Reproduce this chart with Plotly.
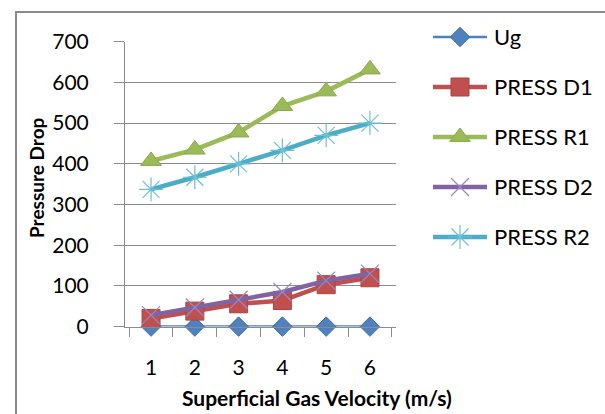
import plotly.graph_objects as go

# Superficial gas velocity categories (m/s)
velocity = ["1", "2", "3", "4", "5", "6"]

# Measured series
ug = [0, 0, 0, 0, 0, 0]
press_d1 = [20, 38, 56, 64, 103, 120]
press_r1 = [407, 435, 477, 542, 578, 632]
press_d2 = [28, 47, 66, 85, 113, 130]
press_r2 = [337, 367, 400, 433, 470, 500]

y_ticks = [0, 100, 200, 300, 400, 500, 600, 700]

W, H = 605, 414
FONT = "Lato"
GRID = "#8c8c8c"

series = [
    dict(name="Ug", y=ug, color="#4F81BD", width=2.5,
         marker=dict(symbol="diamond", size=15, color="#4F81BD",
                     line=dict(color="#3f6ea8", width=1))),
    dict(name="PRESS D1", y=press_d1, color="#C0504D", width=4.5,
         marker=dict(symbol="square", size=18, color="#C0504D",
                     line=dict(color="#a84542", width=1))),
    dict(name="PRESS R1", y=press_r1, color="#9BBB59", width=4.5,
         marker=dict(symbol="triangle-up", size=18, color="#9BBB59",
                     line=dict(color="#8aa84d", width=1))),
    dict(name="PRESS D2", y=press_d2, color="#8064A2", width=4.5,
         marker=dict(symbol="x-thin-open", size=18, color="#9b86bd",
                     line=dict(color="#9b86bd", width=1.2))),
    dict(name="PRESS R2", y=press_r2, color="#4BACC6", width=4.5,
         marker=dict(symbol="asterisk-open", size=20, color="#6cc0d6",
                     line=dict(color="#6cc0d6", width=1.2))),
]

fig = go.Figure()

for s in series:
    fig.add_trace(go.Scatter(
        x=velocity, y=s["y"], name=s["name"], mode="lines+markers",
        line=dict(color=s["color"], width=s["width"]),
        marker=s["marker"], cliponaxis=False, showlegend=False,
        xaxis="x", yaxis="y",
    ))

# Legend drawn in its own hidden pixel-scaled axes
LEG_X0, LEG_X1 = 433, 600
LEG_Y0, LEG_Y1 = 17, 257
row_gap = 50
annotations = []
for i, s in enumerate(series):
    yc = 37 + row_gap * i
    fig.add_trace(go.Scatter(
        x=[0, 54], y=[yc, yc], mode="lines",
        line=dict(color=s["color"], width=s["width"]),
        showlegend=False, hoverinfo="skip", xaxis="x2", yaxis="y2",
        cliponaxis=False,
    ))
    fig.add_trace(go.Scatter(
        x=[27], y=[yc], mode="markers", marker=s["marker"],
        showlegend=False, hoverinfo="skip", xaxis="x2", yaxis="y2",
        cliponaxis=False,
    ))
    annotations.append(dict(
        x=59, y=yc, xref="x2", yref="y2", text=s["name"], showarrow=False,
        xanchor="left", yanchor="middle",
        font=dict(family=FONT, size=22, color="#000000"),
    ))

# Axis titles
annotations.append(dict(
    x=36 / W, y=1 - 178 / H, xref="paper", yref="paper",
    text="<b>Pressure Drop</b>", textangle=-90, showarrow=False,
    xanchor="center", yanchor="middle",
    font=dict(family=FONT, size=19, color="#000000"),
))
annotations.append(dict(
    x=317 / W, y=1 - 397 / H, xref="paper", yref="paper",
    text="<b>Superficial Gas Velocity (m/s)</b>", showarrow=False,
    xanchor="center", yanchor="middle",
    font=dict(family=FONT, size=21, color="#000000"),
))

PLOT_L, PLOT_R, PLOT_T, PLOT_B = 125, 396, 41.7, 326.6

fig.update_layout(
    width=W, height=H,
    margin=dict(l=0, r=0, t=0, b=0, pad=0, autoexpand=False),
    paper_bgcolor="white", plot_bgcolor="white",
    font=dict(family=FONT, size=21, color="#000000"),
    showlegend=False,
    xaxis=dict(
        domain=[PLOT_L / W, PLOT_R / W], anchor="y",
        type="category", categoryorder="array", categoryarray=velocity,
        tickson="boundaries", ticks="outside", ticklen=9,
        tickcolor=GRID, tickwidth=1,
        showline=True, linecolor=GRID, linewidth=1,
        showgrid=False, zeroline=False, automargin=False,
        ticklabelstandoff=22,
        tickfont=dict(family=FONT, size=21, color="#000000"),
    ),
    yaxis=dict(
        domain=[1 - PLOT_B / H, 1 - PLOT_T / H], anchor="x",
        range=[0, 700], tickvals=y_ticks,
        ticks="outside", ticklen=10, tickcolor=GRID, tickwidth=1,
        showline=True, linecolor=GRID, linewidth=1,
        showgrid=True, gridcolor=GRID, gridwidth=1, zeroline=False,
        automargin=False, ticklabelstandoff=21,
        tickfont=dict(family=FONT, size=21, color="#000000"),
    ),
    xaxis2=dict(
        domain=[LEG_X0 / W, LEG_X1 / W], anchor="y2",
        range=[0, LEG_X1 - LEG_X0], visible=False, fixedrange=True,
    ),
    yaxis2=dict(
        domain=[1 - LEG_Y1 / H, 1 - LEG_Y0 / H], anchor="x2",
        range=[LEG_Y1, LEG_Y0], visible=False, fixedrange=True,
    ),
    annotations=annotations,
    shapes=[dict(
        type="rect", xref="paper", yref="paper",
        x0=16 / W, x1=1.02, y0=-0.02, y1=1 - 12 / H,
        line=dict(color="#8a8a8a", width=2), fillcolor="rgba(0,0,0,0)",
        layer="above",
    )],
)

fig.write_html("out.html")
